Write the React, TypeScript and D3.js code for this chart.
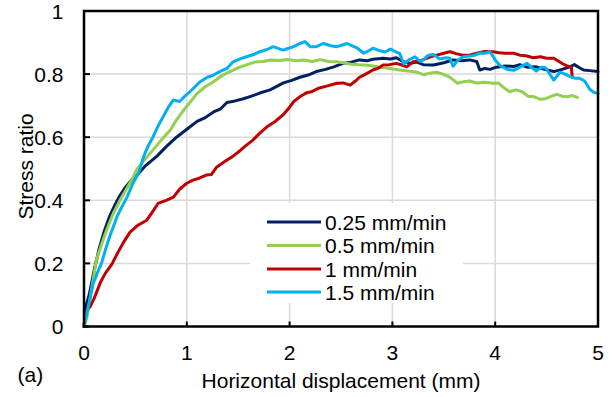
import React from "react";
import * as d3 from "d3";

const xTicks = [0, 1, 2, 3, 4, 5];
const yTicks = [0, 0.2, 0.4, 0.6, 0.8, 1];
const xTickLabels = ["0", "1", "2", "3", "4", "5"];
const yTickLabels = ["0", "0.2", "0.4", "0.6", "0.8", "1"];

const seriesNames = ["0.25 mm/min", "0.5 mm/min", "1 mm/min", "1.5 mm/min"];
const seriesColors = ["#002060", "#92D050", "#C00000", "#00B0F0"];

const x025 = [0,0.02,0.05,0.1,0.15,0.2,0.25,0.3,0.35,0.4,0.45,0.51,0.6,0.71,0.8,0.9,1.0,1.1,1.18,1.26,1.33,1.39,1.47,1.55,1.63,1.71,1.81,1.88,1.94,2.02,2.1,2.18,2.26,2.35,2.43,2.52,2.6,2.68,2.75,2.81,2.91,2.98,3.04,3.1,3.17,3.24,3.3,3.4,3.5,3.59,3.67,3.75,3.82,3.85,3.9,3.95,4.01,4.1,4.18,4.24,4.31,4.4,4.48,4.57,4.65,4.72,4.77,4.82,4.86,4.92,5.0];
const y025 = [0,0.065,0.1,0.18,0.25,0.305,0.35,0.385,0.415,0.44,0.46,0.478,0.51,0.54,0.57,0.6,0.625,0.65,0.662,0.68,0.69,0.71,0.715,0.722,0.73,0.74,0.75,0.762,0.772,0.78,0.79,0.797,0.808,0.815,0.823,0.834,0.838,0.845,0.842,0.847,0.85,0.848,0.852,0.84,0.834,0.838,0.83,0.829,0.836,0.845,0.842,0.845,0.84,0.813,0.818,0.815,0.822,0.826,0.824,0.83,0.822,0.823,0.815,0.808,0.815,0.822,0.83,0.82,0.813,0.811,0.808];

const x05 = [0,0.03,0.06,0.09,0.12,0.17,0.22,0.28,0.35,0.42,0.48,0.51,0.58,0.67,0.75,0.84,0.9,0.97,1.03,1.1,1.18,1.26,1.34,1.42,1.5,1.58,1.66,1.74,1.82,1.9,1.98,2.06,2.14,2.22,2.3,2.38,2.46,2.52,2.59,2.67,2.75,2.83,2.91,2.98,3.07,3.15,3.24,3.3,3.36,3.43,3.49,3.55,3.6,3.63,3.69,3.75,3.82,3.9,3.98,4.03,4.08,4.14,4.2,4.26,4.32,4.38,4.44,4.49,4.55,4.6,4.65,4.7,4.75,4.8];
const y05 = [0,0.03,0.09,0.15,0.21,0.26,0.306,0.355,0.4,0.44,0.475,0.496,0.525,0.559,0.59,0.623,0.655,0.686,0.71,0.739,0.76,0.776,0.795,0.808,0.82,0.829,0.838,0.84,0.845,0.843,0.846,0.842,0.845,0.84,0.846,0.84,0.839,0.836,0.832,0.83,0.828,0.825,0.82,0.818,0.813,0.81,0.806,0.798,0.803,0.806,0.8,0.792,0.78,0.771,0.776,0.778,0.772,0.774,0.771,0.772,0.758,0.744,0.75,0.745,0.73,0.728,0.72,0.722,0.73,0.736,0.73,0.728,0.732,0.726];

const x1 = [0,0.02,0.06,0.1,0.16,0.21,0.27,0.33,0.39,0.45,0.52,0.61,0.66,0.72,0.8,0.87,0.93,1.0,1.06,1.12,1.19,1.24,1.29,1.32,1.38,1.45,1.52,1.58,1.64,1.71,1.78,1.86,1.94,2.0,2.04,2.1,2.16,2.22,2.28,2.36,2.46,2.52,2.59,2.64,2.68,2.74,2.81,2.87,2.91,2.97,3.04,3.1,3.14,3.2,3.27,3.33,3.37,3.43,3.5,3.56,3.62,3.68,3.75,3.82,3.9,3.98,4.04,4.1,4.18,4.24,4.3,4.37,4.44,4.5,4.57,4.62,4.66,4.7,4.74,4.75];
const y1 = [0,0.05,0.063,0.09,0.14,0.17,0.197,0.235,0.27,0.3,0.32,0.337,0.36,0.39,0.4,0.41,0.435,0.454,0.464,0.47,0.48,0.482,0.505,0.512,0.525,0.54,0.558,0.575,0.59,0.613,0.633,0.65,0.672,0.695,0.713,0.728,0.74,0.745,0.755,0.762,0.771,0.772,0.765,0.778,0.79,0.8,0.813,0.82,0.829,0.83,0.834,0.828,0.823,0.839,0.842,0.85,0.855,0.86,0.866,0.871,0.865,0.86,0.86,0.866,0.872,0.871,0.868,0.866,0.866,0.86,0.858,0.852,0.855,0.85,0.85,0.84,0.832,0.826,0.823,0.79];

const x15 = [0,0.04,0.09,0.13,0.17,0.21,0.25,0.29,0.32,0.37,0.42,0.47,0.53,0.58,0.62,0.67,0.72,0.77,0.82,0.87,0.93,0.98,1.03,1.08,1.13,1.2,1.26,1.32,1.39,1.45,1.52,1.58,1.65,1.71,1.78,1.84,1.9,1.94,1.99,2.04,2.1,2.15,2.2,2.26,2.33,2.4,2.46,2.52,2.56,2.62,2.66,2.72,2.77,2.81,2.87,2.93,2.98,3.04,3.07,3.11,3.16,3.22,3.27,3.3,3.35,3.4,3.46,3.52,3.56,3.59,3.64,3.69,3.75,3.8,3.85,3.9,3.95,4.0,4.05,4.12,4.18,4.24,4.31,4.35,4.4,4.45,4.49,4.53,4.57,4.63,4.68,4.73,4.78,4.82,4.87,4.92,4.96,5.0];
const y15 = [0,0.06,0.137,0.17,0.2,0.245,0.285,0.32,0.348,0.38,0.411,0.45,0.486,0.538,0.57,0.6,0.635,0.665,0.695,0.718,0.713,0.73,0.744,0.76,0.776,0.79,0.797,0.808,0.818,0.839,0.848,0.855,0.862,0.871,0.878,0.887,0.88,0.876,0.882,0.887,0.897,0.903,0.887,0.887,0.897,0.89,0.887,0.893,0.897,0.888,0.882,0.866,0.874,0.882,0.875,0.87,0.879,0.87,0.866,0.832,0.845,0.855,0.84,0.845,0.86,0.862,0.848,0.852,0.85,0.825,0.845,0.855,0.857,0.86,0.866,0.866,0.871,0.845,0.826,0.815,0.812,0.822,0.834,0.822,0.81,0.822,0.82,0.8,0.781,0.806,0.8,0.792,0.787,0.787,0.778,0.752,0.742,0.739];

const seriesX = [x025, x05, x1, x15];
const seriesY = [y025, y05, y1, y15];

const W = 615;
const H = 397;
const FONT = "'Liberation Sans', Arial, sans-serif";

export default function App() {
  const xs = d3.scaleLinear().domain([0, 5]).range([84, 598]);
  const ys = d3.scaleLinear().domain([0, 1]).range([326.5, 11]);
  const line = d3
    .line<[number, number]>()
    .x((d) => xs(d[0]))
    .y((d) => ys(d[1]));

  const legendX = 250;
  const legendY = 203;
  const rowY = [222, 245.5, 269, 292];

  return (
    <svg
      width={W}
      height={H}
      style={{ position: "absolute", left: 0, top: 0, background: "#fff" }}
      fontFamily={FONT}
    >
      <rect x={0} y={0} width={W} height={H} fill="#fff" />
      {/* gridlines */}
      {xTicks.slice(1, -1).map((t) => (
        <line key={"gx" + t} x1={xs(t)} x2={xs(t)} y1={ys(0)} y2={ys(1)} stroke="#d9d9d9" strokeWidth={1.5} />
      ))}
      {yTicks.slice(1, -1).map((t) => (
        <line key={"gy" + t} x1={xs(0)} x2={xs(5)} y1={ys(t)} y2={ys(t)} stroke="#d9d9d9" strokeWidth={1.5} />
      ))}
      {/* series */}
      {seriesX.map((sx, i) => (
        <path
          key={"s" + i}
          d={line(sx.map((v, j) => [v, seriesY[i][j]] as [number, number])) || ""}
          fill="none"
          stroke={seriesColors[i]}
          strokeWidth={3}
          strokeLinejoin="round"
          strokeLinecap="round"
        />
      ))}
      {/* frame */}
      <rect x={xs(0)} y={ys(1)} width={xs(5) - xs(0)} height={ys(0) - ys(1)} fill="none" stroke="#000" strokeWidth={2.5} />
      {/* ticks */}
      {xTicks.map((t) => (
        <line key={"tx" + t} x1={xs(t)} x2={xs(t)} y1={ys(0)} y2={ys(0) - 5} stroke="#000" strokeWidth={2} />
      ))}
      {yTicks.map((t) => (
        <line key={"ty" + t} x1={xs(0)} x2={xs(0) + 6} y1={ys(t)} y2={ys(t)} stroke="#000" strokeWidth={2} />
      ))}
      {/* tick labels */}
      {xTicks.map((t, i) => (
        <text key={"lx" + t} x={xs(t)} y={360} textAnchor="middle" fontSize={21} fill="#000">
          {xTickLabels[i]}
        </text>
      ))}
      {yTicks.map((t, i) => (
        <text key={"ly" + t} x={63.5} y={ys(t) + 7.5} textAnchor="end" fontSize={21} fill="#000">
          {yTickLabels[i]}
        </text>
      ))}
      {/* axis titles */}
      <text x={341} y={388} textAnchor="middle" fontSize={21} fill="#000">
        Horizontal displacement (mm)
      </text>
      <text transform="translate(32.5,166.5) rotate(-90)" textAnchor="middle" fontSize={21} fill="#000">
        Stress ratio
      </text>
      <text x={17.5} y={382} fontSize={21} fill="#000">
        (a)
      </text>
      {/* legend */}
      <rect x={legendX} y={legendY} width={213} height={100} fill="#fff" />
      {seriesNames.map((n, i) => (
        <g key={"lg" + i}>
          <line x1={267} x2={321} y1={rowY[i]} y2={rowY[i]} stroke={seriesColors[i]} strokeWidth={3} />
          <text x={325} y={rowY[i] + 7.5} fontSize={21} fill="#000">
            {n}
          </text>
        </g>
      ))}
    </svg>
  );
}
